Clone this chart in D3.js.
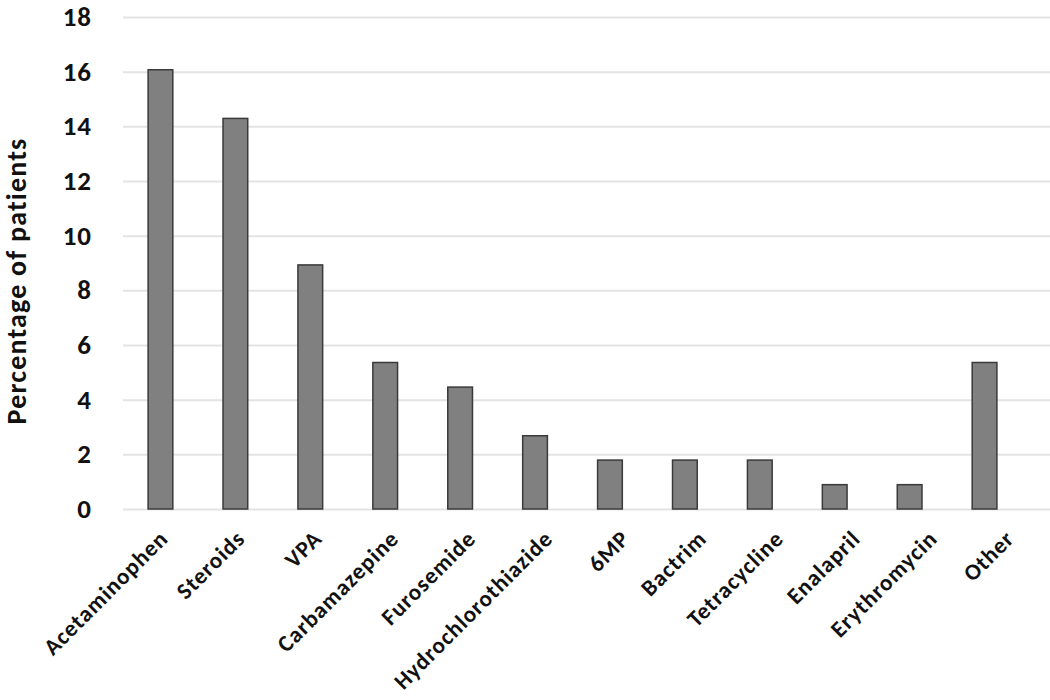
<!DOCTYPE html>
<html lang="en">
<head>
<meta charset="utf-8">
<title>Drugs - percentage of patients</title>
<script src="https://cdn.jsdelivr.net/npm/d3@7"></script>
<style>
  body { margin: 0; background: #fff; }
  text { font-family: Carlito, Lato, "Open Sans", sans-serif; font-weight: bold; fill: #111; }
</style>
</head>
<body>
<div id="chart"></div>
<script>
// data (n = 112 patients)
var drugs = ["Acetaminophen", "Steroids", "VPA", "Carbamazepine", "Furosemide",
             "Hydrochlorothiazide", "6MP", "Bactrim", "Tetracycline", "Enalapril",
             "Erythromycin", "Other"];
var percents = [16.07, 14.29, 8.93, 5.36, 4.46, 2.68, 1.79, 1.79, 1.79, 0.89, 0.89, 5.36];
var yTicks = [0, 2, 4, 6, 8, 10, 12, 14, 16, 18];

var w = 1050, h = 700;
var plotLeft = 123, plotRight = 1022, plotTop = 17, plotBottom = 509;

var svg = d3.select("#chart").append("svg")
    .attr("width", w)
    .attr("height", h);

var x = d3.scaleBand()
    .domain(drugs)
    .range([plotLeft, plotRight])
    .paddingInner(0.67)
    .paddingOuter(0.335);

// labels in the original sit on a slightly wider spread than the bars
var xLabels = x.copy().range([plotLeft + 6, plotRight + 30]);

var y = d3.scaleLinear()
    .domain([0, 18])
    .range([plotBottom, plotTop]);

// gridlines + tick labels
var yAxis = d3.axisLeft(y)
    .tickValues(yTicks)
    .tickSize(-(w - plotLeft))
    .tickPadding(31);

var gy = svg.append("g")
    .attr("transform", "translate(" + plotLeft + ",0)")
    .call(yAxis);
gy.select(".domain").remove();
gy.selectAll(".tick line")
    .attr("stroke", "#e3e3e3")
    .attr("stroke-width", 2);
gy.selectAll(".tick text")
    .attr("font-size", 27)
    .attr("letter-spacing", 1)
    .attr("fill", "#111");

// bars
svg.selectAll("rect.bar")
    .data(drugs)
    .enter()
    .append("rect")
    .attr("class", "bar")
    .attr("x", function(d) { return x(d); })
    .attr("width", x.bandwidth())
    .attr("y", function(d, i) { return y(percents[i]); })
    .attr("height", function(d, i) { return plotBottom - y(percents[i]); })
    .attr("fill", "#808080")
    .attr("stroke", "#3a3a3a")
    .attr("stroke-width", 1.5);

// category labels, rotated
var gx = svg.append("g")
    .attr("transform", "translate(0," + plotBottom + ")")
    .call(d3.axisBottom(xLabels).tickSize(0).tickPadding(0));
gx.select(".domain").remove();
gx.selectAll(".tick text")
    .attr("font-size", 23)
    .attr("letter-spacing", 1)
    .attr("fill", "#111")
    .attr("text-anchor", "end")
    .attr("dy", 0)
    .attr("transform", "translate(2,31) rotate(-45)");

// y title
svg.append("text")
    .attr("transform", "translate(26,281) rotate(-90)")
    .attr("text-anchor", "middle")
    .attr("font-size", 28)
    .attr("letter-spacing", 1.2)
    .text("Percentage of patients");
</script>
</body>
</html>
